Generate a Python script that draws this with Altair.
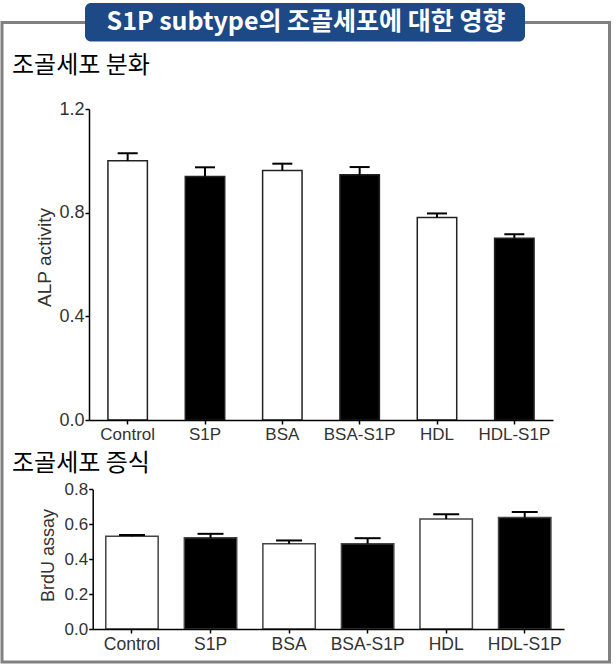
import altair as alt
import pandas as pd

categories = ["Control", "S1P", "BSA", "BSA-S1P", "HDL", "HDL-S1P"]
alp = [1.0, 0.94, 0.963, 0.946, 0.781, 0.701]
alp_err = [0.029, 0.035, 0.026, 0.03, 0.016, 0.016]
brdu = [0.531, 0.522, 0.488, 0.488, 0.630, 0.638]
brdu_err = [0.008, 0.023, 0.019, 0.032, 0.027, 0.032]

main_title = "S1P subtype의 조골세포에 대한 영향"
sec1 = "조골세포 분화"
sec2 = "조골세포 증식"
ytitle1 = "ALP activity"
ytitle2 = "BrdU assay"

KFONT = "Noto Sans CJK KR"
LFONT = "Liberation Sans"
one = pd.DataFrame({"a": [0]})


def panel(vals, errs, xr, yr, pad_in, ticks, cap, off_x, off_y, title, title_x, title_y,
          lab_size, ylab_size, title_size, bar_stroke):
    df = pd.DataFrame({"cat": categories, "val": vals, "err": errs})
    base = alt.Chart(df).transform_calculate(
        hi="datum.val + datum.err",
        kind="indexof(datum.cat, 'S1P') >= 0 ? 'S1P' : 'plain'",
    )
    x = alt.X(
        "cat:N",
        sort=categories,
        scale=alt.Scale(range=xr, paddingInner=pad_in, paddingOuter=pad_in / 2),
        axis=alt.Axis(
            orient="bottom", offset=off_x, title=None, labelAngle=0, tickSize=4,
            labelPadding=2, labelFont=LFONT, labelFontSize=lab_size, labelColor="#333333",
            domainColor="black", domainWidth=1.5, tickColor="black", tickWidth=1.5,
            zindex=1,
        ),
    )
    y = alt.Y(
        "val:Q",
        scale=alt.Scale(domain=[ticks[0], ticks[-1]], range=yr, nice=False),
        axis=alt.Axis(
            orient="left", offset=off_y, values=ticks, format=".1f", grid=False,
            tickSize=4, labelPadding=1, labelFont=LFONT, labelFontSize=ylab_size,
            labelColor="#333333", domainColor="black", domainWidth=1.5,
            tickColor="black", tickWidth=1.5, title=title, titleFont=LFONT,
            titleFontSize=title_size, titleFontWeight="normal", titleColor="#333333",
            titleX=title_x, titleY=title_y, titleBaseline="middle", titleAngle=270,
            zindex=1,
        ),
    )
    bars = base.mark_bar(stroke=bar_stroke, strokeWidth=1.5).encode(
        x=x,
        y=y,
        color=alt.Color("kind:N", scale=alt.Scale(domain=["plain", "S1P"], range=["white", "black"]), legend=None),
    )
    rule = base.mark_rule(color="black", strokeWidth=2).encode(
        x=alt.X("cat:N", sort=categories), y="val:Q", y2="hi:Q"
    )
    capm = base.mark_tick(color="black", thickness=2, size=cap, opacity=1).encode(
        x=alt.X("cat:N", sort=categories), y="hi:Q"
    )
    return alt.layer(bars, rule, capm)


top = panel(alp, alp_err, [89, 553], [420, 109], 0.49, [0, 0.4, 0.8, 1.2], 20,
            420 - 667, -89, ytitle1, 44 - 89, 257, 17, 18, 19, "#222222")
bottom = panel(brdu, brdu_err, [92.7, 564], [629, 489.3], 0.333, [0, 0.2, 0.4, 0.6, 0.8], 26,
               629 - 667, -92.7, ytitle2, 49 - 92.7, 555, 17.5, 17, 18, "#444444")

frame = alt.Chart(one).mark_rect(fill="transparent", stroke="#808080", strokeWidth=3).encode(
    x=alt.value(2), x2=alt.value(609.5), y=alt.value(22.5), y2=alt.value(662)
)
tbox = alt.Chart(one).mark_rect(fill="#1d4a86", cornerRadius=6).encode(
    x=alt.value(85), x2=alt.value(525), y=alt.value(3), y2=alt.value(41.5)
)
ttext = alt.Chart(one).mark_text(
    font=KFONT, fontSize=25, fontWeight="bold", color="white", align="center", baseline="middle"
).encode(x=alt.value(306), y=alt.value(22), text=alt.value(main_title))
s1 = alt.Chart(one).mark_text(
    font=KFONT, fontSize=24, color="black", align="left", baseline="alphabetic"
).encode(x=alt.value(12), y=alt.value(73), text=alt.value(sec1))
s2 = alt.Chart(one).mark_text(
    font=KFONT, fontSize=24, color="black", align="left", baseline="alphabetic"
).encode(x=alt.value(12), y=alt.value(471), text=alt.value(sec2))

chart = alt.layer(frame, tbox, ttext, s1, s2, top, bottom).resolve_scale(
    x="independent", y="independent"
).properties(
    width=616, height=667, autosize="none", padding=0, background="white"
).configure_view(stroke=None)

chart.save("out.html", embed_options={"renderer": "svg", "actions": False})
